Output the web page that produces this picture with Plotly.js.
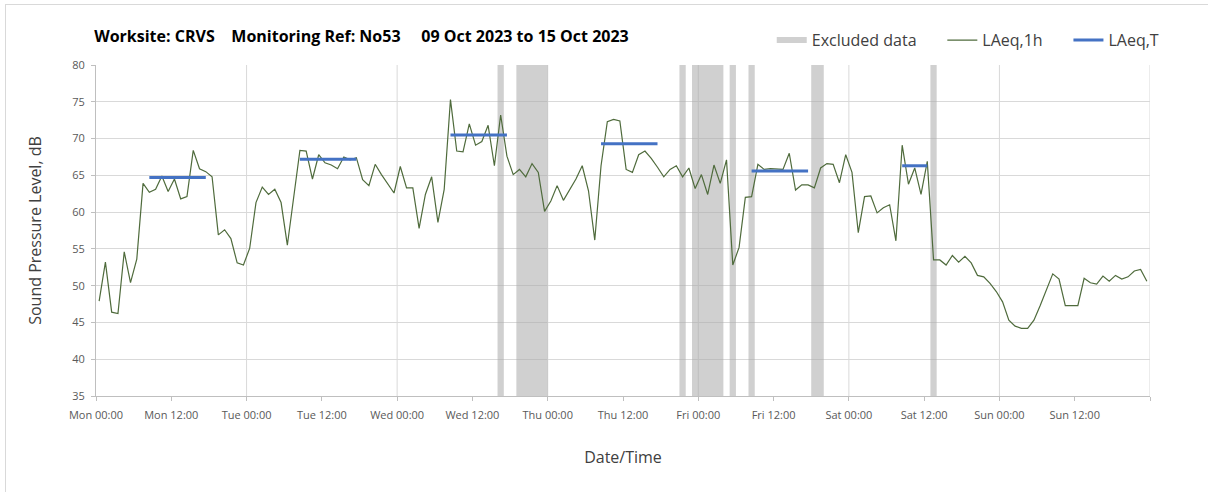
<!DOCTYPE html>
<html>
<head>
<meta charset="utf-8">
<script src="https://cdn.plot.ly/plotly-3.0.1.min.js"></script>
<style>
  body { margin: 0; background: #fff; overflow: hidden; }
  #frame { position: absolute; left: 5px; top: 4px; width: 1400px; height: 700px; border: 1px solid #d9d9d9; }
  #plot { position: absolute; left: 0; top: 0; width: 1208px; height: 492px; }
</style>
</head>
<body>
<div id="frame"></div>
<div id="plot"></div>
<script>
// Hourly LAeq,1h values, Mon 09 Oct 00:00 onwards (one per hour)
let startTime = '2023-10-09 00:00';
let lAeq1h = [
  47.9, 53.2, 46.4, 46.2, 54.6, 50.4, 53.6, 63.9, 62.7, 63.1, 64.9, 62.8, 64.5, 61.8, 62.1, 68.4, 65.9, 65.5, 64.8, 56.9, 57.6, 56.4, 53.1, 52.8,
  55.1, 61.3, 63.4, 62.4, 63.1, 61.3, 55.5, 62.1, 68.4, 68.3, 64.5, 67.8, 66.7, 66.4, 65.9, 67.5, 67.1, 67.4, 64.4, 63.6, 66.5, 65.1, 63.9, 62.6,
  66.2, 63.3, 63.3, 57.8, 62.4, 64.8, 58.6, 63.1, 75.3, 68.3, 68.2, 72.0, 69.1, 69.6, 71.8, 66.3, 73.2, 67.6, 65.1, 65.8, 64.8, 66.6, 65.4, 60.1,
  61.5, 63.6, 61.6, 63.1, 64.5, 66.3, 62.9, 56.2, 66.3, 72.3, 72.6, 72.4, 65.8, 65.4, 67.8, 68.3, 67.3, 66.1, 64.8, 65.8, 66.3, 64.8, 66.0, 63.2,
  65.1, 62.4, 66.4, 63.9, 67.1, 52.8, 55.2, 62.0, 62.1, 66.5, 65.8, 65.9, 65.9, 65.8, 68.0, 63.0, 63.7, 63.7, 63.3, 66.0, 66.6, 66.5, 64.0, 67.8,
  65.4, 57.2, 62.1, 62.2, 59.9, 60.6, 61.0, 56.1, 69.1, 63.8, 66.0, 62.4, 66.9, 53.5, 53.5, 52.8, 54.1, 53.2, 54.0, 53.1, 51.4, 51.2, 50.3, 49.2,
  47.8, 45.3, 44.5, 44.2, 44.2, 45.3, 47.3, 49.5, 51.6, 50.9, 47.3, 47.3, 47.3, 51.0, 50.4, 50.2, 51.3, 50.6, 51.4, 50.9, 51.2, 52.0, 52.2, 50.6
];

// LAeq,T over the working day periods
let periodStart = ['2023-10-09 08:30', '2023-10-10 08:30', '2023-10-11 08:30', '2023-10-12 08:30', '2023-10-13 08:30', '2023-10-14 08:30'];
let periodEnd   = ['2023-10-09 17:30', '2023-10-10 17:30', '2023-10-11 17:30', '2023-10-12 17:30', '2023-10-13 17:30', '2023-10-14 12:30'];
let lAeqT = [64.7, 67.2, 70.5, 69.3, 65.6, 66.3];

// Excluded data windows
let excludedStart = ['2023-10-11 16:00', '2023-10-11 19:00', '2023-10-12 21:00', '2023-10-12 23:00', '2023-10-13 05:00', '2023-10-13 08:00', '2023-10-13 18:00', '2023-10-14 13:00'];
let excludedEnd   = ['2023-10-11 17:00', '2023-10-12 00:00', '2023-10-12 22:00', '2023-10-13 04:00', '2023-10-13 06:00', '2023-10-13 09:00', '2023-10-13 20:00', '2023-10-14 14:00'];

// x ticks every 12h, the closing Monday tick has no label
let tickDays = ['Mon', 'Tue', 'Wed', 'Thu', 'Fri', 'Sat', 'Sun'];
let tickHours = ['00:00', '12:00'];

// Day boundaries for vertical gridlines
let dayLines = ['2023-10-10', '2023-10-11', '2023-10-12', '2023-10-13', '2023-10-14', '2023-10-15', '2023-10-16'];

const HOUR = 3600000;
function t(s) { return new Date(s.replace(' ', 'T') + ':00Z').getTime(); }
function iso(ms) { return new Date(ms).toISOString().slice(0, 16).replace('T', ' '); }

// hourly timestamps (plotted mid-hour)
let hours = [];
for (let i = 0; i < lAeq1h.length; i++) {
    hours.push(iso(t(startTime) + i * HOUR + HOUR / 2));
}

// LAeq,T segments, gaps between them
let tx = [], ty = [];
for (let i = 0; i < lAeqT.length; i++) {
    tx.push(periodStart[i], periodEnd[i], null);
    ty.push(lAeqT[i], lAeqT[i], null);
}

// excluded bands as filled boxes over the full y range
let ex = [], ey = [];
for (let i = 0; i < excludedStart.length; i++) {
    ex.push(excludedStart[i], excludedStart[i], excludedEnd[i], excludedEnd[i], excludedStart[i], null);
    ey.push(35, 80, 80, 35, 35, null);
}

let tickvals = [], ticktext = [];
for (let d = 0; d < tickDays.length; d++) {
    for (let h = 0; h < tickHours.length; h++) {
        tickvals.push(iso(t(startTime) + (d * 24 + h * 12) * HOUR));
        ticktext.push(tickDays[d] + ' ' + tickHours[h]);
    }
}
tickvals.push(dayLines[dayLines.length - 1] + ' 00:00');
ticktext.push('');

let trace1 = {
    x: ex, y: ey,
    type: 'scatter', mode: 'none',
    fill: 'toself',
    fillcolor: 'rgba(170,170,170,0.55)',
    name: 'Excluded data\u00a0\u00a0\u00a0\u00a0\u00a0',
    hoverinfo: 'skip'
};

let trace2 = {
    x: hours, y: lAeq1h,
    type: 'scatter', mode: 'lines',
    name: 'LAeq,1h\u00a0\u00a0\u00a0\u00a0\u00a0',
    line: {color: '#4f6b3c', width: 1.2}
};

let trace3 = {
    x: tx, y: ty,
    type: 'scatter', mode: 'lines',
    name: 'LAeq,T',
    line: {color: '#4472c4', width: 3}
};

let shapes = dayLines.map(d => ({
    type: 'line', xref: 'x', yref: 'paper',
    x0: d, x1: d, y0: 0, y1: 1,
    line: {color: '#d9d9d9', width: 1},
    layer: 'below'
}));

let layout = {
    width: 1208, height: 492,
    margin: {l: 96, r: 58, t: 65, b: 96},
    paper_bgcolor: 'rgba(0,0,0,0)', plot_bgcolor: '#fff',
    font: {family: 'Open Sans, sans-serif', color: '#404040'},
    title: {
        text: 'Worksite: CRVS    Monitoring Ref: No53     09 Oct 2023 to 15 Oct 2023',
        font: {size: 16, weight: 'bold', color: '#000'},
        xref: 'container', x: 0.078, xanchor: 'left',
        yref: 'container', y: 0.927, yanchor: 'middle'
    },
    showlegend: true,
    legend: {
        orientation: 'h',
        x: 1.014, xanchor: 'right',
        y: 1.075, yanchor: 'middle',
        font: {size: 16, color: '#404040'},
        bgcolor: 'rgba(0,0,0,0)',
        traceorder: 'normal'
    },
    xaxis: {
        type: 'date',
        range: ['2023-10-09 00:00', '2023-10-16 00:00'],
        tickmode: 'array',
        tickvals: tickvals,
        ticktext: ticktext,
        tickfont: {size: 11, color: '#595959'},
        ticks: 'outside', ticklen: 4, tickcolor: '#bfbfbf',
        ticklabelstandoff: 5,
        showgrid: false,
        showline: true, linecolor: '#bfbfbf',
        zeroline: false,
        title: {text: 'Date/Time', font: {size: 16, color: '#404040'}, standoff: 30}
    },
    yaxis: {
        range: [35, 80],
        dtick: 5,
        tickfont: {size: 11, color: '#595959'},
        ticks: 'outside', ticklen: 4, tickcolor: '#bfbfbf',
        ticklabelstandoff: 4,
        gridcolor: '#d9d9d9',
        showline: true, linecolor: '#bfbfbf',
        zeroline: false,
        title: {text: 'Sound Pressure Level, dB', font: {size: 16, color: '#404040'}, standoff: 26}
    },
    shapes: shapes
};

Plotly.newPlot('plot', [trace1, trace2, trace3], layout, {displayModeBar: false});
</script>
</body>
</html>
